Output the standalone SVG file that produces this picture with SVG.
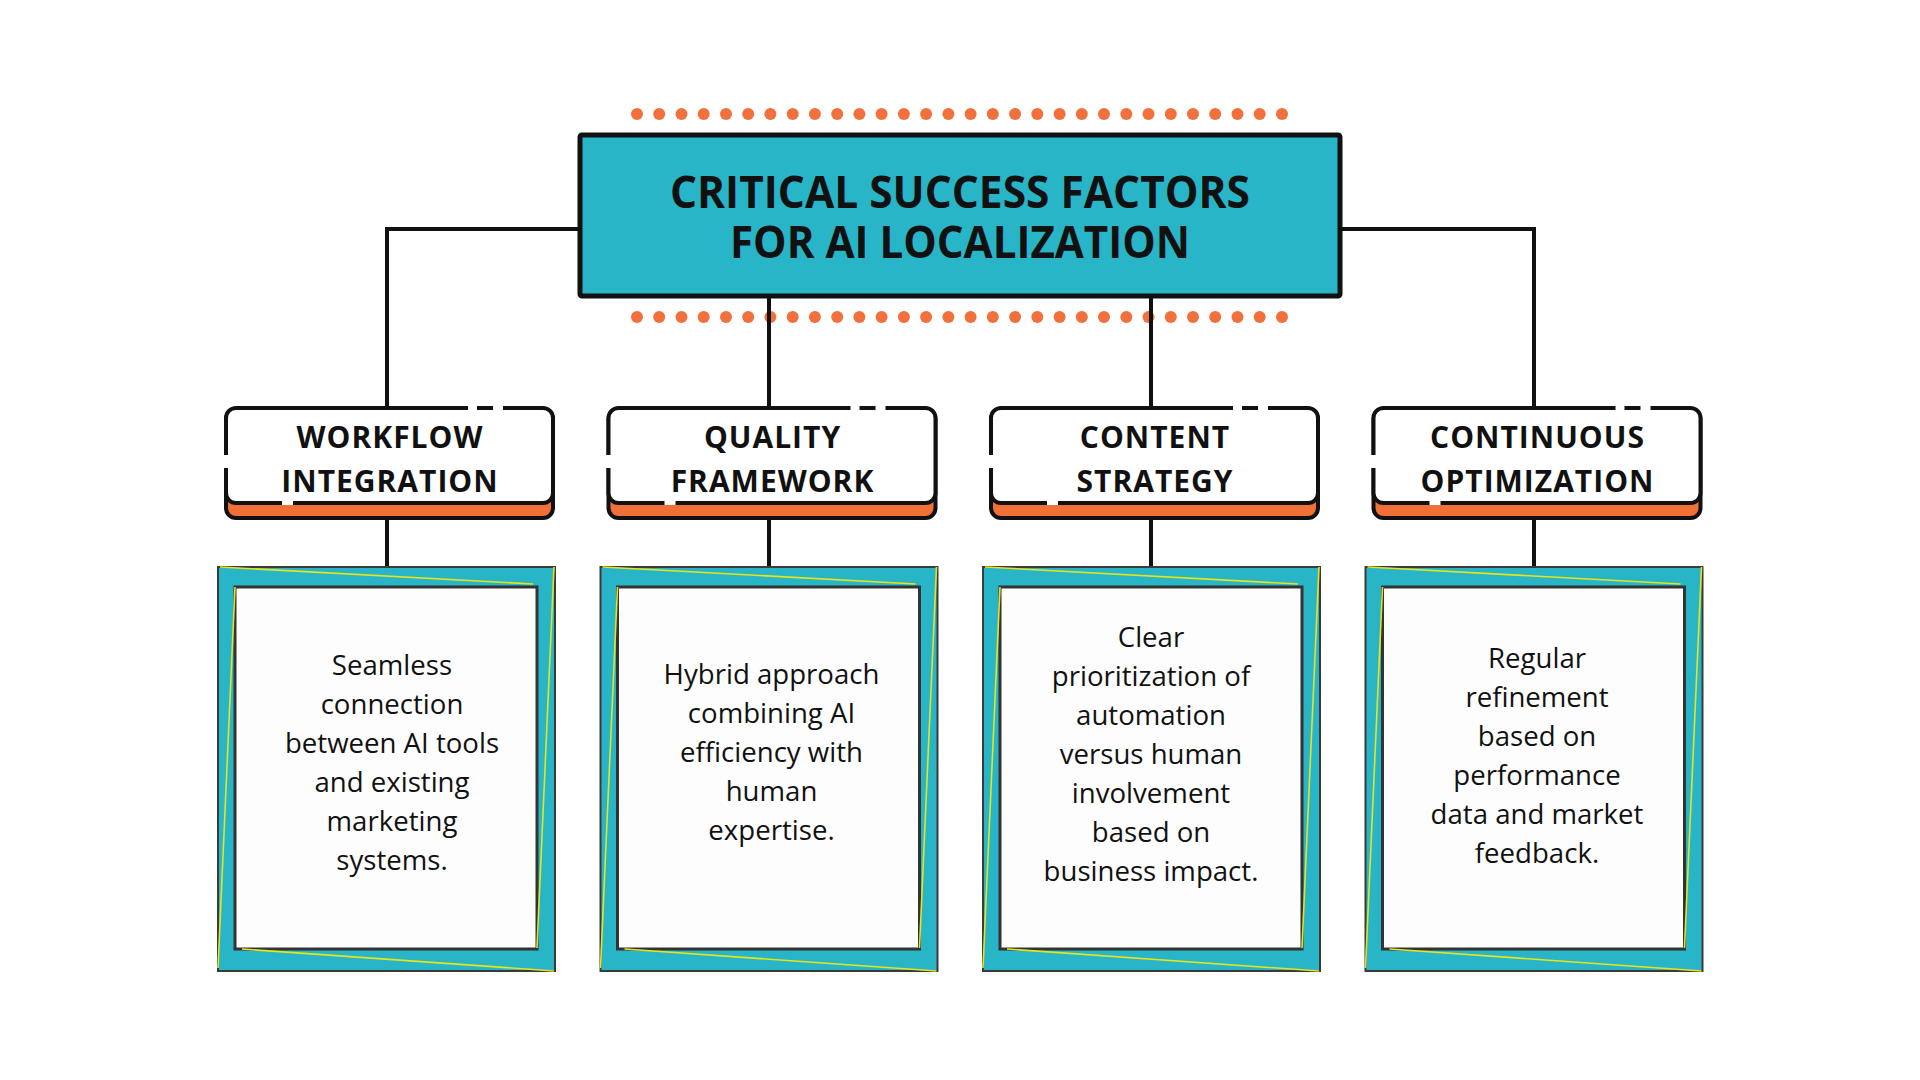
<svg xmlns="http://www.w3.org/2000/svg" width="1920" height="1080" viewBox="0 0 1920 1080">
<style>
.dot{fill:#F2703C}
.conn{stroke:#111;stroke-width:4;fill:none}
.title{font-family:"Open Sans","Liberation Sans",sans-serif;font-weight:700;font-size:44px;fill:#111;text-anchor:middle}
.cardO{fill:#F07038;stroke:#111;stroke-width:4}
.cardW{fill:#fff;stroke:#111;stroke-width:4}
.gap{fill:#fff}
.ct{font-family:"Open Sans","Liberation Sans",sans-serif;font-weight:700;font-size:30px;fill:#111;text-anchor:middle;letter-spacing:1px}
.frame{fill:#28B5C7;stroke:#3a3a3a;stroke-width:2}
.inner{fill:#fdfdfd;stroke:#333;stroke-width:3}
.yl{stroke:#E9E31C;stroke-width:1.6;fill:none}
.bt{font-family:"Open Sans","Liberation Sans",sans-serif;font-size:27.6px;fill:#111;text-anchor:middle}
</style>
<defs>
<g id="dotrow">
<circle class="dot" cx="637" cy="0" r="6"/><circle class="dot" cx="659.2" cy="0" r="6"/><circle class="dot" cx="681.5" cy="0" r="6"/><circle class="dot" cx="703.7" cy="0" r="6"/><circle class="dot" cx="726" cy="0" r="6"/><circle class="dot" cx="748.2" cy="0" r="6"/><circle class="dot" cx="770.4" cy="0" r="6"/><circle class="dot" cx="792.7" cy="0" r="6"/><circle class="dot" cx="814.9" cy="0" r="6"/><circle class="dot" cx="837.2" cy="0" r="6"/><circle class="dot" cx="859.4" cy="0" r="6"/><circle class="dot" cx="881.6" cy="0" r="6"/><circle class="dot" cx="903.9" cy="0" r="6"/><circle class="dot" cx="926.1" cy="0" r="6"/><circle class="dot" cx="948.4" cy="0" r="6"/><circle class="dot" cx="970.6" cy="0" r="6"/><circle class="dot" cx="992.8" cy="0" r="6"/><circle class="dot" cx="1015.1" cy="0" r="6"/><circle class="dot" cx="1037.3" cy="0" r="6"/><circle class="dot" cx="1059.6" cy="0" r="6"/><circle class="dot" cx="1081.8" cy="0" r="6"/><circle class="dot" cx="1104" cy="0" r="6"/><circle class="dot" cx="1126.3" cy="0" r="6"/><circle class="dot" cx="1148.5" cy="0" r="6"/><circle class="dot" cx="1170.8" cy="0" r="6"/><circle class="dot" cx="1193" cy="0" r="6"/><circle class="dot" cx="1215.2" cy="0" r="6"/><circle class="dot" cx="1237.5" cy="0" r="6"/><circle class="dot" cx="1259.7" cy="0" r="6"/><circle class="dot" cx="1282" cy="0" r="6"/>
</g>
<g id="cardbase">
<rect class="cardO" x="0" y="2" width="327" height="108" rx="10"/>
<rect class="cardW" x="0" y="0" width="327" height="95" rx="10"/>
<rect class="gap" x="242" y="-3" width="9" height="6"/>
<rect class="gap" x="267" y="-3" width="10" height="6"/>
<rect class="gap" x="-3" y="47" width="6" height="13"/>
<rect class="gap" x="56" y="92.5" width="11" height="4.5"/>
</g>
<g id="boxbase">
<rect class="frame" x="0" y="0" width="337" height="404"/>
<rect class="inner" x="17" y="20" width="302" height="362"/>
<line class="yl" x1="2" y1="0" x2="315" y2="17"/>
<line class="yl" x1="336" y1="0" x2="319" y2="381"/>
<line class="yl" x1="24" y1="382" x2="336" y2="404"/>
<line class="yl" x1="17" y1="20" x2="0" y2="401"/>
</g>
</defs>
<rect width="1920" height="1080" fill="#fff"/>
<g id="dots">
<use href="#dotrow" y="114"/>
<use href="#dotrow" y="317"/>
</g>
<g id="connectors">
<polyline class="conn" points="580,229 387,229 387,410"/>
<polyline class="conn" points="1340,229 1534,229 1534,410"/>
<line class="conn" x1="769" y1="296" x2="769" y2="410"/>
<line class="conn" x1="1151" y1="296" x2="1151" y2="410"/>
<line class="conn" x1="387" y1="518" x2="387" y2="568"/>
<line class="conn" x1="769" y1="518" x2="769" y2="568"/>
<line class="conn" x1="1151" y1="518" x2="1151" y2="568"/>
<line class="conn" x1="1534" y1="518" x2="1534" y2="568"/>
</g>
<g id="title">
<rect x="580" y="135" width="760" height="161" rx="2" fill="#28B5C7" stroke="#111" stroke-width="5"/>
<text class="title" x="960" y="208" textLength="580" lengthAdjust="spacingAndGlyphs">CRITICAL SUCCESS FACTORS</text>
<text class="title" x="960" y="258" textLength="460" lengthAdjust="spacingAndGlyphs">FOR AI LOCALIZATION</text>
</g>
<g id="card-workflow" transform="translate(226,408)">
<use href="#cardbase"/>
<text class="ct" x="164" y="40">WORKFLOW</text>
<text class="ct" x="164" y="84">INTEGRATION</text>
</g>
<g id="card-quality" transform="translate(608.5,408)">
<use href="#cardbase"/>
<text class="ct" x="164" y="40">QUALITY</text>
<text class="ct" x="164" y="84">FRAMEWORK</text>
</g>
<g id="card-content" transform="translate(991,408)">
<use href="#cardbase"/>
<text class="ct" x="164" y="40">CONTENT</text>
<text class="ct" x="164" y="84">STRATEGY</text>
</g>
<g id="card-optimization" transform="translate(1373.5,408)">
<use href="#cardbase"/>
<text class="ct" x="164" y="40">CONTINUOUS</text>
<text class="ct" x="164" y="84">OPTIMIZATION</text>
</g>
<g id="box-workflow" transform="translate(218,567)">
<use href="#boxbase"/>
<text class="bt" x="174"><tspan x="174" y="108">Seamless</tspan><tspan x="174" y="147">connection</tspan><tspan x="174" y="186">between AI tools</tspan><tspan x="174" y="225">and existing</tspan><tspan x="174" y="264">marketing</tspan><tspan x="174" y="303">systems.</tspan></text>
</g>
<g id="box-quality" transform="translate(600.5,567)">
<use href="#boxbase"/>
<text class="bt" x="171"><tspan x="171" y="117">Hybrid approach</tspan><tspan x="171" y="156">combining AI</tspan><tspan x="171" y="195">efficiency with</tspan><tspan x="171" y="234">human</tspan><tspan x="171" y="273">expertise.</tspan></text>
</g>
<g id="box-content" transform="translate(983,567)">
<use href="#boxbase"/>
<text class="bt" x="168"><tspan x="168" y="80">Clear</tspan><tspan x="168" y="119">prioritization of</tspan><tspan x="168" y="158">automation</tspan><tspan x="168" y="197">versus human</tspan><tspan x="168" y="236">involvement</tspan><tspan x="168" y="275">based on</tspan><tspan x="168" y="314">business impact.</tspan></text>
</g>
<g id="box-optimization" transform="translate(1365.5,567)">
<use href="#boxbase"/>
<text class="bt" x="171.5"><tspan x="171.5" y="101">Regular</tspan><tspan x="171.5" y="140">refinement</tspan><tspan x="171.5" y="179">based on</tspan><tspan x="171.5" y="218">performance</tspan><tspan x="171.5" y="257">data and market</tspan><tspan x="171.5" y="296">feedback.</tspan></text>
</g>
</svg>
